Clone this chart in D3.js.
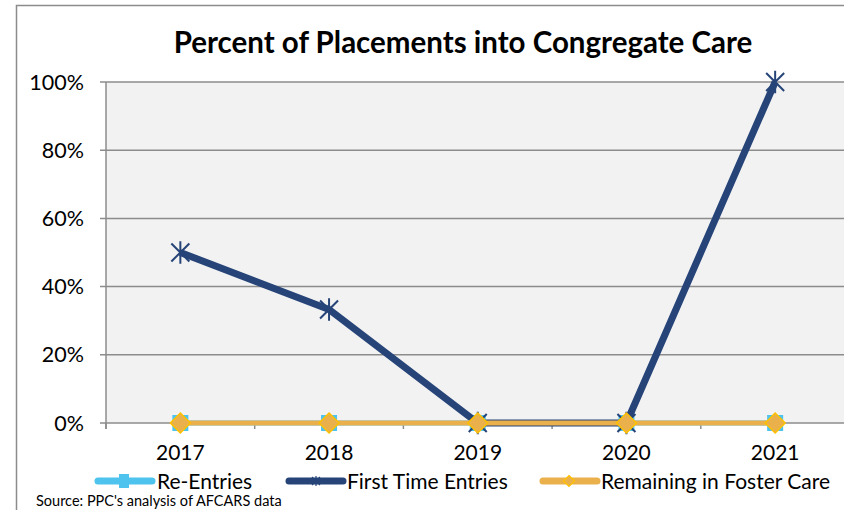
<!DOCTYPE html>
<html><head><meta charset="utf-8">
<script src="https://cdn.jsdelivr.net/npm/d3@7"></script>
<style>body{margin:0;background:#fff}svg{display:block}text{font-family:Lato,"Open Sans",sans-serif}</style>
</head><body>
<svg id="c" width="844" height="510"></svg>
<script>
const categories = ["2017","2018","2019","2020","2021"];
const reEntries = [0,0,0,0,0];
const firstTime = [50,33.3,0,0,100];
const remaining = [0,0,0,0,0];
const yTicks = [0,20,40,60,80,100];
const seriesNames = ["Re-Entries","First Time Entries","Remaining in Foster Care"];

const svg = d3.select("#c");
// outer frame
svg.append("rect").attr("x",16.5).attr("y",5.5).attr("width",900).attr("height",600)
  .attr("fill","#fff").attr("stroke","#8c8c8c").attr("stroke-width",1.5);

const L=106, R=849.5, T=82, B=423;
const x = d3.scaleBand().domain(categories).range([L,R]);
const y = d3.scaleLinear().domain([0,100]).range([B,T]);

svg.append("rect").attr("x",L).attr("y",T).attr("width",R-L).attr("height",B-T).attr("fill","#f2f2f2");

// gridlines
svg.append("g").selectAll("line").data(yTicks).join("line")
  .attr("x1",L-6).attr("x2",R).attr("y1",d=>y(d)).attr("y2",d=>y(d))
  .attr("stroke","#8c8c8c").attr("stroke-width",1.5);
// y axis line
svg.append("line").attr("x1",L).attr("x2",L).attr("y1",T).attr("y2",B+6).attr("stroke","#8c8c8c").attr("stroke-width",1.5);
// x tick marks at band boundaries
const bounds = categories.map(c=>x(c)).concat([R]);
svg.append("g").selectAll("line").data(bounds).join("line")
  .attr("x1",d=>d).attr("x2",d=>d).attr("y1",B).attr("y2",B+6)
  .attr("stroke","#8c8c8c").attr("stroke-width",1.5);

// y labels
svg.append("g").selectAll("text").data(yTicks).join("text")
  .attr("x",L-22).attr("y",d=>y(d)+7.5).attr("text-anchor","end")
  .attr("font-size",21.5).attr("fill","#000").text(d=>d+"%");
// x labels
svg.append("g").selectAll("text").data(categories).join("text")
  .attr("x",d=>x(d)+x.bandwidth()/2).attr("y",460).attr("text-anchor","middle")
  .attr("font-size",21).attr("fill","#000").text(d=>d);

// title
svg.append("text").attr("x",463).attr("y",53).attr("text-anchor","middle")
  .attr("font-size",29.5).attr("font-weight","bold").attr("fill","#000")
  .text("Percent of Placements into Congregate Care");

const cx = i=>x(categories[i])+x.bandwidth()/2;
const line = d3.line().x((d,i)=>cx(i)).y(d=>y(d));

const blue="#4dc3ee", navy="#264478", orange="#e9b04c", gold="#ffc000";

// Re-Entries
svg.append("path").datum(reEntries).attr("d",line).attr("fill","none").attr("stroke",blue).attr("stroke-width",5);
svg.append("g").selectAll("rect").data(reEntries).join("rect")
  .attr("x",(d,i)=>cx(i)-8).attr("y",d=>y(d)-8).attr("width",16).attr("height",16).attr("fill",blue);

// First time entries
svg.append("path").datum(firstTime).attr("d",line).attr("fill","none").attr("stroke",navy).attr("stroke-width",7).attr("stroke-linejoin","round");
function star(g,px,py,s,col,w){
  const p = d3.path();
  p.moveTo(px-s,py-s);p.lineTo(px+s,py+s);
  p.moveTo(px-s,py+s);p.lineTo(px+s,py-s);
  p.moveTo(px,py-s*1.25);p.lineTo(px,py+s*1.25);
  g.append("path").attr("d",p.toString()).attr("stroke",col).attr("stroke-width",w).attr("fill","none");
}
const sg = svg.append("g");
firstTime.forEach((d,i)=>star(sg,cx(i),y(d),9,navy,2));

// Remaining
function diamond(r){ return `M0,${-r}L${r},0L0,${r}L${-r},0Z`; }
svg.append("path").datum(remaining).attr("d",line).attr("fill","none").attr("stroke",orange).attr("stroke-width",5);
svg.append("g").selectAll("path").data(remaining).join("path")
  .attr("transform",(d,i)=>`translate(${cx(i)},${y(d)})`)
  .attr("d",diamond(10)).attr("fill",orange).attr("stroke",gold).attr("stroke-width",1.5);

// legend
const ly=481;
const lg = svg.append("g");
// Re-Entries
lg.append("line").attr("x1",98).attr("x2",152).attr("y1",ly).attr("y2",ly).attr("stroke",blue).attr("stroke-width",7).attr("stroke-linecap","round");
lg.append("rect").attr("x",119).attr("y",ly-7).attr("width",10).attr("height",14).attr("fill",blue);
lg.append("text").attr("x",157).attr("y",ly+7.5).attr("font-size",21).text(seriesNames[0]);
// First time
lg.append("line").attr("x1",289).attr("x2",343).attr("y1",ly).attr("y2",ly).attr("stroke",navy).attr("stroke-width",7).attr("stroke-linecap","round");
star(lg,316,ly,4,navy,1.2);
lg.append("text").attr("x",347).attr("y",ly+7.5).attr("font-size",21).text(seriesNames[1]);
// Remaining
lg.append("line").attr("x1",543).attr("x2",597).attr("y1",ly).attr("y2",ly).attr("stroke",orange).attr("stroke-width",7).attr("stroke-linecap","round");
lg.append("path").attr("transform",`translate(569,${ly})`).attr("d",diamond(5.5))
  .attr("fill",orange).attr("stroke",gold).attr("stroke-width",1.2);
lg.append("text").attr("x",601).attr("y",ly+7.5).attr("font-size",21).text(seriesNames[2]);

// source
svg.append("text").attr("x",36).attr("y",506).attr("font-size",14.5).attr("fill","#000").text("Source: PPC's analysis of AFCARS data");
</script>
</body></html>
